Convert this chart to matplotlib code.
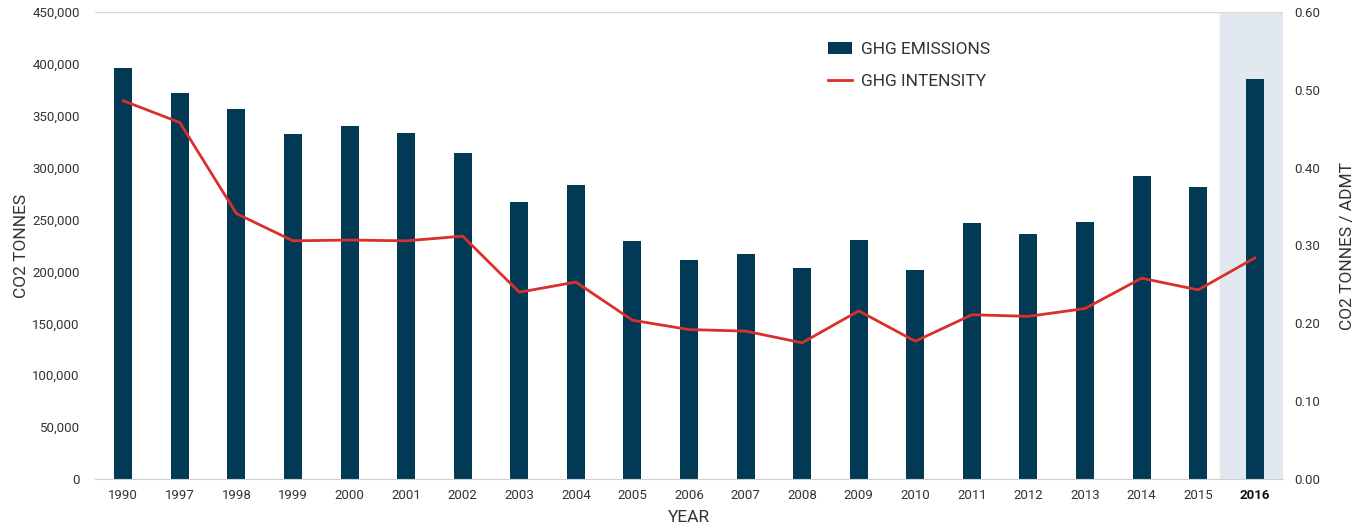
import matplotlib
matplotlib.use("Agg")
import matplotlib.pyplot as plt
from matplotlib.ticker import FuncFormatter

plt.rcParams['font.family'] = ['Roboto', 'DejaVu Sans']

years = ['1990', '1997', '1998', '1999', '2000', '2001', '2002', '2003', '2004', '2005',
         '2006', '2007', '2008', '2009', '2010', '2011', '2012', '2013', '2014', '2015', '2016']
emissions = [396000, 371800, 356500, 332400, 340100, 333300, 314000, 266900, 283200, 229300,
             211000, 216800, 203300, 230300, 201300, 246600, 236000, 247600, 291900, 281300, 385400]
intensity = [0.486, 0.458, 0.341, 0.306, 0.307, 0.306, 0.312, 0.240, 0.253, 0.204,
             0.192, 0.190, 0.175, 0.216, 0.177, 0.211, 0.209, 0.219, 0.258, 0.243, 0.284]

bar_color = '#023a55'
line_color = '#d9302a'
text_color = '#333333'

fig = plt.figure(figsize=(13.67, 5.27), dpi=100)
ax = fig.add_axes([95 / 1367, 1 - 479 / 527, (1283 - 95) / 1367, (479 - 12) / 527])
ax2 = ax.twinx()

x = list(range(len(years)))
# highlight band behind the latest year
ax.axvspan(len(years) - 1.62, len(years) - 0.5, color='#e1e8f0', zorder=0)
ax.bar(x, emissions, width=0.32, color=bar_color, label='GHG EMISSIONS', zorder=2)
ax2.plot(x, intensity, color=line_color, lw=2, label='GHG INTENSITY')

ax.set_xlim(-0.5, len(years) - 0.5)
ax.set_ylim(0, 450000)
ax.set_yticks(range(0, 450001, 50000))
ax.yaxis.set_major_formatter(FuncFormatter(lambda v, p: f'{int(v):,}'))
ax2.set_ylim(0, 0.6)
ax2.set_yticks([i / 10 for i in range(7)])
ax2.yaxis.set_major_formatter(FuncFormatter(lambda v, p: f'{v:.2f}'))

ax.axhline(450000, color='#d9d9d9', lw=1, zorder=1)
for a in (ax, ax2):
    for s in a.spines.values():
        s.set_visible(False)
    a.tick_params(length=0, labelsize=9.5, colors=text_color)
ax.spines['bottom'].set_visible(True)
ax.spines['bottom'].set_color('#d0d0d0')

ax.set_xticks(x)
ax.set_xticklabels(years)
ax.get_xticklabels()[-1].set_fontweight('bold')
ax.get_xticklabels()[-1].set_color('#111111')
ax.tick_params(axis='x', pad=7)
ax.tick_params(axis='y', pad=11)
ax2.tick_params(axis='y', pad=8)

ax.set_xlabel('YEAR', fontsize=12.5, color=text_color, labelpad=6)
ax.set_ylabel('CO2 TONNES', fontsize=12.5, color=text_color, labelpad=2)
ax2.set_ylabel('CO2 TONNES / ADMT', fontsize=12.5, color=text_color, labelpad=14)

h1, l1 = ax.get_legend_handles_labels()
h2, l2 = ax2.get_legend_handles_labels()
ax2.legend(h1 + h2, l1 + l2, loc='upper left', bbox_to_anchor=(0.604, 0.97), frameon=False,
           fontsize=12.5, handlelength=1.4, handletextpad=0.5, labelspacing=1.0,
           labelcolor=text_color)

fig.savefig('out.png', dpi=100)
